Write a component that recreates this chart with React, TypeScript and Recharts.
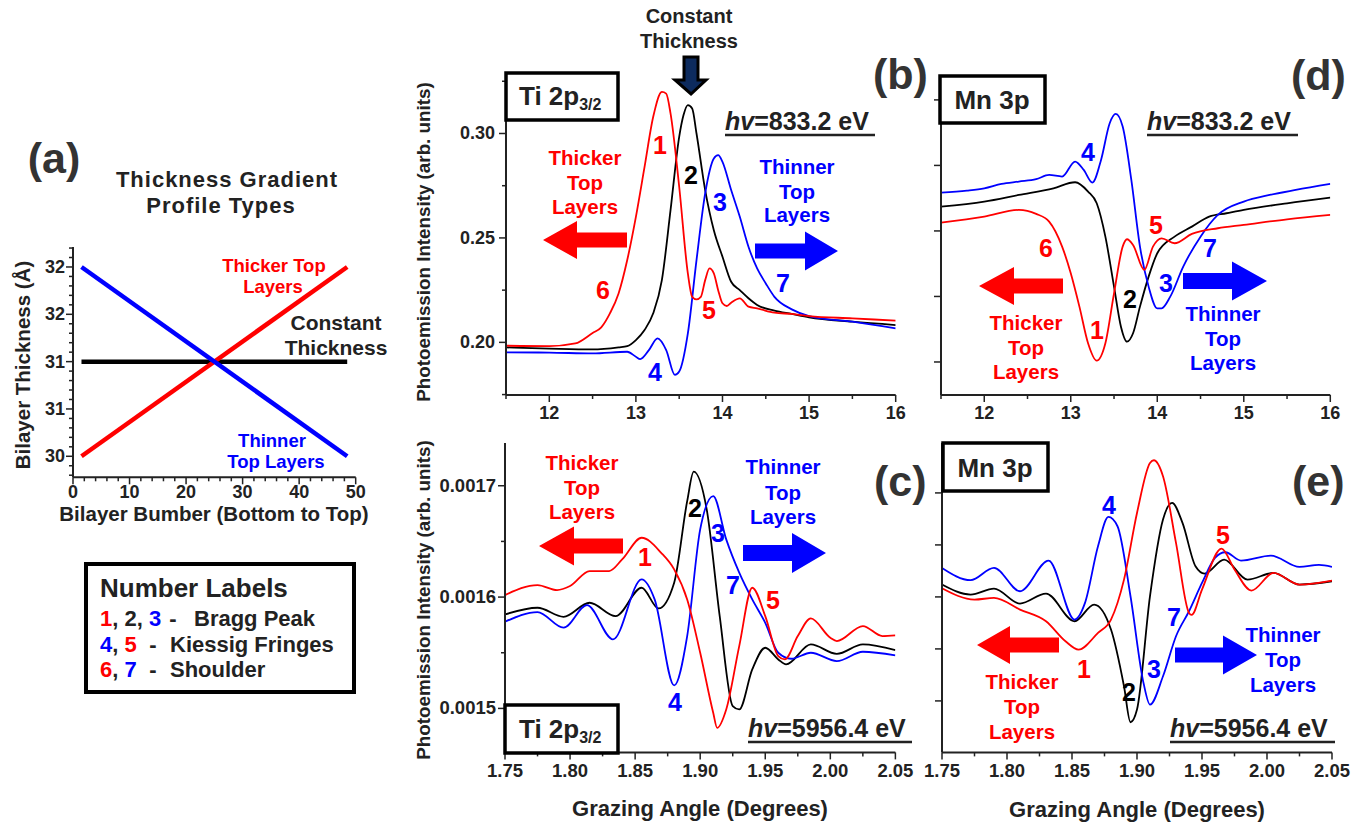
import React from 'react';
import { LineChart, Line, XAxis, YAxis } from 'recharts';

// ---------- panel (a): thickness profiles ----------
const aX = [1.5, 48.5];
const aThicker = [30, 32];
const aThinner = [32, 30];
const aConstant = [31, 31];
const aXMajor = [0, 10, 20, 30, 40, 50];
const aXMinor = [2, 4, 6, 8, 12, 14, 16, 18, 22, 24, 26, 28, 32, 34, 36, 38, 42, 44, 46, 48];
const aYMajor = [30, 30.5, 31, 31.5, 32];
const aYMinor = [29.8, 29.9, 30.1, 30.2, 30.3, 30.4, 30.6, 30.7, 30.8, 30.9, 31.1, 31.2, 31.3, 31.4, 31.6, 31.7, 31.8, 31.9, 32.1, 32.2];

// ---------- panel (b): Ti 2p3/2, hv = 833.2 eV ----------
const bRedX = [11.5, 12, 12.3, 12.5, 12.6, 12.7, 12.8, 12.9, 13.0, 13.1, 13.2, 13.3, 13.35, 13.4, 13.5, 13.6, 13.65, 13.7, 13.75, 13.8, 13.85, 13.9, 13.95, 14.0, 14.05, 14.1, 14.2, 14.3, 14.4, 14.6, 14.8, 15.0, 15.5, 16];
const bRed = [0.1984, 0.1982, 0.1995, 0.2045, 0.2072, 0.2139, 0.2234, 0.2394, 0.2601, 0.284, 0.308, 0.3199, 0.3191, 0.3096, 0.2745, 0.233, 0.2218, 0.2206, 0.2218, 0.2298, 0.2354, 0.233, 0.225, 0.2187, 0.2174, 0.219, 0.2211, 0.2171, 0.2163, 0.2142, 0.2136, 0.2126, 0.2115, 0.2104];
const bBlackX = [11.5, 12, 12.5, 12.8, 12.9, 13.0, 13.1, 13.2, 13.3, 13.4, 13.5, 13.55, 13.6, 13.65, 13.7, 13.8, 13.9, 14.0, 14.1, 14.2, 14.3, 14.4, 14.6, 14.8, 15.0, 15.5, 16];
const bBlack = [0.1976, 0.197, 0.1966, 0.1976, 0.1982, 0.2011, 0.2059, 0.2139, 0.2298, 0.2633, 0.2984, 0.3088, 0.3136, 0.312, 0.3, 0.2729, 0.2537, 0.241, 0.229, 0.225, 0.2211, 0.2179, 0.2152, 0.2136, 0.212, 0.2099, 0.2083];
const bBlueX = [11.5, 12, 12.5, 12.9, 13.0, 13.05, 13.15, 13.25, 13.35, 13.45, 13.5, 13.6, 13.7, 13.8, 13.9, 13.95, 14.0, 14.1, 14.2, 14.3, 14.4, 14.5, 14.6, 14.8, 15.0, 15.5, 16];
const bBlue = [0.1952, 0.1951, 0.1947, 0.1955, 0.1931, 0.192, 0.1963, 0.2019, 0.1963, 0.1844, 0.186, 0.2043, 0.2394, 0.2713, 0.288, 0.2896, 0.2864, 0.2729, 0.2601, 0.2458, 0.2354, 0.2282, 0.2218, 0.2158, 0.2126, 0.2099, 0.2067];

// ---------- panel (d): Mn 3p, hv = 833.2 eV ----------
const dBlueX = [11.5, 11.8, 12, 12.2, 12.4, 12.6, 12.75, 12.9, 13.05, 13.15, 13.25, 13.35, 13.45, 13.52, 13.6, 13.7, 13.8, 13.9, 14.0, 14.05, 14.15, 14.3, 14.5, 14.7, 15.0, 15.3, 15.6, 16];
const dBlue = [2.585, 2.616, 2.651, 2.718, 2.753, 2.789, 2.855, 2.83, 3.059, 2.931, 2.738, 3.084, 3.644, 3.786, 3.593, 2.779, 1.761, 1.15, 0.819, 0.819, 0.997, 1.455, 1.913, 2.244, 2.448, 2.55, 2.626, 2.718];
const dBlackX = [11.5, 12, 12.4, 12.8, 13.05, 13.2, 13.3, 13.4, 13.5, 13.58, 13.65, 13.72, 13.8, 13.9, 14.0, 14.2, 14.4, 14.6, 14.8, 15.0, 15.5, 16];
const dBlack = [2.372, 2.448, 2.55, 2.651, 2.743, 2.601, 2.422, 1.913, 1.15, 0.539, 0.31, 0.438, 0.845, 1.303, 1.659, 1.913, 2.066, 2.219, 2.27, 2.321, 2.422, 2.509];
const dRedX = [11.5, 12, 12.4, 12.6, 12.75, 12.9, 13.0, 13.1, 13.2, 13.3, 13.4, 13.5, 13.6, 13.65, 13.72, 13.85, 13.95, 14.05, 14.2, 14.4, 14.7, 15.0, 15.5, 16];
const dRed = [2.127, 2.219, 2.321, 2.26, 2.142, 1.761, 1.354, 0.845, 0.285, 0.02, 0.285, 1.048, 1.761, 1.873, 1.786, 1.405, 1.761, 1.888, 1.812, 1.954, 2.041, 2.092, 2.178, 2.244];

// ---------- panel (c): Ti 2p3/2, hv = 5956.4 eV ----------
const cRedX = [1.75, 1.775, 1.79, 1.8, 1.815, 1.83, 1.84, 1.855, 1.87, 1.88, 1.89, 1.9, 1.91, 1.913, 1.92, 1.93, 1.94, 1.95, 1.96, 1.965, 1.975, 1.985, 2.0, 2.005, 2.025, 2.04, 2.05];
const cRed = [0.0016018, 0.0016108, 0.0016063, 0.0016099, 0.0016234, 0.0016234, 0.0016338, 0.0016533, 0.0016398, 0.0016249, 0.0015979, 0.00155, 0.0014961, 0.0014826, 0.0014991, 0.001556, 0.0016084, 0.0015829, 0.001547, 0.001544, 0.001565, 0.0015808, 0.0015635, 0.0015605, 0.001574, 0.001565, 0.0015656];
const cBlackX = [1.75, 1.775, 1.795, 1.815, 1.835, 1.855, 1.868, 1.88, 1.89, 1.895, 1.905, 1.915, 1.925, 1.93, 1.94, 1.95, 1.96, 1.966, 1.985, 2.005, 2.025, 2.05];
const cBlack = [0.0015844, 0.0015904, 0.0015823, 0.0015949, 0.0015829, 0.0016084, 0.0015898, 0.0016129, 0.0016862, 0.0017126, 0.0016787, 0.0015829, 0.0015021, 0.0014991, 0.001535, 0.0015545, 0.001544, 0.0015395, 0.0015575, 0.001549, 0.0015575, 0.0015524];
const cBlueX = [1.75, 1.775, 1.795, 1.813, 1.833, 1.855, 1.865, 1.88, 1.89, 1.9, 1.91, 1.92, 1.93, 1.94, 1.95, 1.96, 1.97, 1.985, 2.005, 2.025, 2.05];
const cBlue = [0.0015778, 0.0015865, 0.0015725, 0.0015928, 0.001562, 0.0016159, 0.0015979, 0.0015207, 0.001565, 0.0016608, 0.0016907, 0.0016518, 0.0016219, 0.0015979, 0.0015769, 0.00155, 0.0015446, 0.00155, 0.0015425, 0.0015509, 0.0015476];

// ---------- panel (e): Mn 3p, hv = 5956.4 eV ----------
const eBlueX = [1.75, 1.772, 1.79, 1.81, 1.832, 1.852, 1.86, 1.87, 1.878, 1.885, 1.895, 1.905, 1.91, 1.92, 1.93, 1.94, 1.95, 1.96, 1.968, 1.98, 2.003, 2.025, 2.04, 2.05];
const eBlue = [2.558, 2.321, 2.558, 2.109, 2.699, 1.564, 1.885, 2.974, 3.538, 3.359, 2.013, 0.346, -0.071, 0.474, 1.244, 1.724, 2.269, 2.75, 2.859, 2.699, 2.795, 2.577, 2.615, 2.577];
const eBlackX = [1.75, 1.772, 1.79, 1.81, 1.83, 1.852, 1.867, 1.88, 1.89, 1.895, 1.9, 1.91, 1.92, 1.927, 1.935, 1.945, 1.952, 1.967, 1.985, 2.005, 2.025, 2.05];
const eBlack = [2.237, 2.045, 2.16, 1.872, 2.064, 1.532, 1.853, 1.372, 0.282, -0.41, -0.167, 2.013, 3.487, 3.808, 3.423, 2.59, 2.449, 2.718, 2.333, 2.462, 2.237, 2.301];
const eRedX = [1.75, 1.775, 1.79, 1.81, 1.83, 1.845, 1.855, 1.87, 1.88, 1.89, 1.9, 1.91, 1.913, 1.92, 1.93, 1.94, 1.942, 1.95, 1.965, 1.975, 1.988, 2.005, 2.025, 2.05];
const eRed = [2.167, 1.949, 1.981, 1.756, 1.532, 1.147, 0.987, 1.308, 1.564, 2.333, 3.615, 4.577, 4.628, 4.321, 3.038, 1.692, 1.654, 2.141, 2.929, 2.526, 2.122, 2.462, 2.237, 2.314];

// shared tick lists
const lowXMajor = [12, 13, 14, 15, 16];
const lowXMinor = [11.5, 12.5, 13.5, 14.5, 15.5];
const highXMajor = [1.75, 1.8, 1.85, 1.9, 1.95, 2.0, 2.05];
const highXMinor = [1.775, 1.825, 1.875, 1.925, 1.975, 2.025];
const bYMajor = [0.2, 0.25, 0.3];
const bYMinor = [0.175, 0.225, 0.275, 0.325];
const cYMajor = [0.0015, 0.0016, 0.0017];
const cYMinor = [0.00155, 0.00165];
const mnYMajor = [0, 1, 2, 3, 4];

const RED = '#ff0000';
const BLUE = '#0000ff';
const BLACK = '#000000';
const INK = '#222222';
const FONT = '"Liberation Sans", Arial, sans-serif';
const YW = 100; // room left of each plot for the tick labels

const zip = (xs: number[], ys: number[]) => xs.map((x, i) => ({ x, y: ys[i] }));
const isIn = (list: number[], v: number) => list.some((m) => Math.abs(m - v) < 1e-9);

const xTick = (major: number[], fmt: (v: number) => string, size: number, dy: number) => (props: any) => {
  const { x, y, payload } = props;
  const big = isIn(major, payload.value);
  return (
    <g>
      <line x1={x} x2={x} y1={y} y2={y + (big ? 7 : 4)} stroke={INK} strokeWidth={1.5} />
      {big && (
        <text x={x} y={y + dy} textAnchor="middle" fontSize={size} fontWeight="bold" fill={INK} fontFamily={FONT}>
          {fmt(payload.value)}
        </text>
      )}
    </g>
  );
};

const yTick = (major: number[], fmt: ((v: number) => string) | null, size: number, gap: number) => (props: any) => {
  const { x, y, payload } = props;
  const big = isIn(major, payload.value);
  return (
    <g>
      <line x1={x} x2={x - (big ? 7 : 4)} y1={y} y2={y} stroke={INK} strokeWidth={1.5} />
      {big && fmt && (
        <text x={x - gap} y={y + 6} textAnchor="end" fontSize={size} fontWeight="bold" fill={INK} fontFamily={FONT}>
          {fmt(payload.value)}
        </text>
      )}
    </g>
  );
};

interface Series { data: { x: number; y: number }[]; color: string; width: number; type?: 'monotone' | 'linear' }

interface PanelProps {
  left: number; top: number; w: number; h: number;
  xDomain: [number, number]; yDomain: [number, number];
  xTicks: number[]; yTicks: number[];
  xRender: any; yRender: any;
  series: Series[];
}

const Panel = ({ left, top, w, h, xDomain, yDomain, xTicks, yTicks, xRender, yRender, series }: PanelProps) => (
  <div style={{ position: 'absolute', left: left - YW, top: top - 10 }}>
    <LineChart width={w + YW + 20} height={h + 50} margin={{ top: 10, right: 20, bottom: 0, left: 0 }}>
      <XAxis type="number" dataKey="x" domain={xDomain} ticks={xTicks} interval={0} allowDataOverflow
        tickSize={0} tickMargin={0} tickLine={false} tick={xRender} height={40}
        axisLine={{ stroke: INK, strokeWidth: 2 }} />
      <YAxis type="number" dataKey="y" domain={yDomain} ticks={yTicks} interval={0} allowDataOverflow
        tickSize={0} tickMargin={0} tickLine={false} tick={yRender} width={YW}
        axisLine={{ stroke: INK, strokeWidth: 2 }} />
      {series.map((s, i) => (
        <Line key={i} data={s.data} dataKey="y" type={s.type ?? 'monotone'} stroke={s.color}
          strokeWidth={s.width} dot={false} activeDot={false} isAnimationActive={false} />
      ))}
    </LineChart>
  </div>
);

const Arrow = ({ tx, ty, hx, hh, bh, ex, color }: any) => (
  <polygon fill={color} points={`${tx},${ty} ${hx},${ty - hh} ${hx},${ty - bh} ${ex},${ty - bh} ${ex},${ty + bh} ${hx},${ty + bh} ${hx},${ty + hh}`} />
);

const T = ({ x, y, c = INK, s = 20, a = 'middle', children, ...rest }: any) => (
  <text x={x} y={y} fill={c} fontSize={s} fontWeight="bold" textAnchor={a} fontFamily={FONT} {...rest}>{children}</text>
);

const Num = ({ x, y, c, children }: any) => (
  <T x={x} y={y + 9} c={c} s={25}>{children}</T>
);

const Hv = ({ x, y, w, value }: any) => (
  <g>
    <T x={x} y={y} s={25} a="start" c={INK}>
      <tspan fontStyle="italic">hv</tspan>{value}
    </T>
    <line x1={x} x2={x + w} y1={y + 5} y2={y + 5} stroke={INK} strokeWidth={2.5} />
  </g>
);

const BoxLabel = ({ x, y, w, h, children }: any) => (
  <g>
    <rect x={x} y={y} width={w} height={h} fill="#fff" stroke="#000" strokeWidth={3.5} />
    {children}
  </g>
);

const TiText = ({ x, y }: any) => (
  <T x={x} y={y} s={26} a="start" c={INK}>
    Ti 2p<tspan fontSize={16} dy={5}>3/2</tspan>
  </T>
);

export default function App() {
  const fmtLow = (v: number) => String(v);
  const fmtHigh = (v: number) => v.toFixed(2);
  return (
    <div style={{ position: 'absolute', left: 0, top: 0, width: 1363, height: 827, background: '#fff', fontFamily: FONT }}>
      <Panel left={73.3} top={246.7} w={282.7} h={230.3} xDomain={[0, 50]} yDomain={[29.778, 32.211]}
        xTicks={[...aXMajor, ...aXMinor]} yTicks={[...aYMajor, ...aYMinor]}
        xRender={xTick(aXMajor, (v) => String(v), 18, 21)} yRender={yTick(aYMajor, (v) => String(Math.round(v)), 18, 8)}
        series={[
          { data: zip(aX, aConstant), color: BLACK, width: 4.5, type: 'linear' },
          { data: zip(aX, aThicker), color: RED, width: 4.5, type: 'linear' },
          { data: zip(aX, aThinner), color: BLUE, width: 4.5, type: 'linear' },
        ]} />
      <Panel left={506} top={75} w={389.7} h={320} xDomain={[11.5, 16]} yDomain={[0.1748, 0.328]}
        xTicks={[...lowXMajor, ...lowXMinor]} yTicks={[...bYMajor, ...bYMinor]}
        xRender={xTick(lowXMajor, fmtLow, 18, 24)} yRender={yTick(bYMajor, (v) => v.toFixed(2), 18, 11)}
        series={[
          { data: zip(bBlackX, bBlack), color: BLACK, width: 1.8 },
          { data: zip(bBlueX, bBlue), color: BLUE, width: 1.8 },
          { data: zip(bRedX, bRed), color: RED, width: 1.8 },
        ]} />
      <Panel left={940.7} top={75} w={389.3} h={320} xDomain={[11.5, 16]} yDomain={[-0.504, 4.38]}
        xTicks={[...lowXMajor, ...lowXMinor]} yTicks={mnYMajor}
        xRender={xTick(lowXMajor, fmtLow, 18, 24)} yRender={yTick(mnYMajor, null, 18, 11)}
        series={[
          { data: zip(dBlackX, dBlack), color: BLACK, width: 1.8 },
          { data: zip(dBlueX, dBlue), color: BLUE, width: 1.8 },
          { data: zip(dRedX, dRed), color: RED, width: 1.8 },
        ]} />
      <Panel left={505.3} top={443.3} w={390.4} h={309.4} xDomain={[1.75, 2.05]} yDomain={[0.0014605, 0.0017384]}
        xTicks={[...highXMajor, ...highXMinor]} yTicks={[...cYMajor, ...cYMinor]}
        xRender={xTick(highXMajor, fmtHigh, 18.5, 25)} yRender={yTick(cYMajor, (v) => v.toFixed(4), 18.5, 9)}
        series={[
          { data: zip(cBlackX, cBlack), color: BLACK, width: 1.8 },
          { data: zip(cBlueX, cBlue), color: BLUE, width: 1.8 },
          { data: zip(cRedX, cRed), color: RED, width: 1.8 },
        ]} />
      <Panel left={941.7} top={443.3} w={390} h={309.4} xDomain={[1.75, 2.05]} yDomain={[-0.99, 4.96]}
        xTicks={[...highXMajor, ...highXMinor]} yTicks={mnYMajor}
        xRender={xTick(highXMajor, fmtHigh, 18.5, 25)} yRender={yTick(mnYMajor, null, 18, 9)}
        series={[
          { data: zip(eBlackX, eBlack), color: BLACK, width: 1.8 },
          { data: zip(eBlueX, eBlue), color: BLUE, width: 1.8 },
          { data: zip(eRedX, eRed), color: RED, width: 1.8 },
        ]} />

      <svg width={1363} height={827} style={{ position: 'absolute', left: 0, top: 0, pointerEvents: 'none' }}>
        {/* panel (a) texts */}
        <T x={54} y={173} s={43} c="#333">(a)</T>
        <T x={227} y={187} s={22} letterSpacing={1}>Thickness Gradient</T>
        <T x={221} y={213} s={22} letterSpacing={1}>Profile Types</T>
        <T x={274} y={272} s={18.5} c={RED}>Thicker Top</T>
        <T x={273} y={293} s={18.5} c={RED}>Layers</T>
        <T x={336} y={330} s={21} c={INK}>Constant</T>
        <T x={336} y={355} s={21} c={INK}>Thickness</T>
        <T x={272} y={447} s={18.5} c={BLUE}>Thinner</T>
        <T x={276} y={468} s={18.5} c={BLUE}>Top Layers</T>
        <T x={214} y={521} s={20.5}>Bilayer Bumber (Bottom to Top)</T>
        <T x={22} y={365} s={20.5} transform="rotate(-90 22 365)" dominantBaseline="central">Bilayer Thickness (Å)</T>

        {/* legend box */}
        <rect x={86} y={564} width={268} height={128} fill="none" stroke="#000" strokeWidth={4} />
        <T x={100} y={597} s={26} a="start">Number Labels</T>
        <T x={100} y={626} s={22} a="start"><tspan fill={RED}>1</tspan>, 2, <tspan fill={BLUE}>3</tspan></T>
        <T x={173} y={626} s={22}>-</T>
        <T x={194} y={626} s={22} a="start">Bragg Peak</T>
        <T x={100} y={652} s={22} a="start"><tspan fill={BLUE}>4</tspan>, <tspan fill={RED}>5</tspan></T>
        <T x={153} y={652} s={22}>-</T>
        <T x={170} y={652} s={22} a="start">Kiessig Fringes</T>
        <T x={100} y={677} s={22} a="start"><tspan fill={RED}>6</tspan>, <tspan fill={BLUE}>7</tspan></T>
        <T x={153} y={677} s={22}>-</T>
        <T x={170} y={677} s={22} a="start">Shoulder</T>

        {/* axis titles */}
        <T x={423} y={242} s={18.8} transform="rotate(-90 423 242)" dominantBaseline="central">Photoemission Intensity (arb. units)</T>
        <T x={423} y={600} s={18.8} transform="rotate(-90 423 600)" dominantBaseline="central">Photoemission Intensity (arb. units)</T>
        <T x={700} y={816} s={22}>Grazing Angle (Degrees)</T>
        <T x={1137} y={817} s={22}>Grazing Angle (Degrees)</T>

        {/* panel (b) */}
        <T x={689} y={23} s={20}>Constant</T>
        <T x={689} y={48} s={20}>Thickness</T>
        <polygon points="684,57 698,57 698,80 706,80 691,94 675,80 684,80" fill="#0d2b5e" stroke="#000" strokeWidth={3} strokeLinejoin="miter" />
        <BoxLabel x={506} y={73} w={112} h={47}><TiText x={519} y={105} /></BoxLabel>
        <T x={873} y={89} s={43} a="start" c="#333">(b)</T>
        <Hv x={725} y={130} w={150} value="=833.2 eV" />
        <T x={585} y={165} s={20.5} c={RED}>Thicker</T>
        <T x={585} y={190} s={20.5} c={RED}>Top</T>
        <T x={585} y={214} s={20.5} c={RED}>Layers</T>
        <Arrow tx={543} ty={240} hx={577} hh={19} bh={7.5} ex={627} color={RED} />
        <T x={797} y={174} s={20.5} c={BLUE}>Thinner</T>
        <T x={797} y={199} s={20.5} c={BLUE}>Top</T>
        <T x={797} y={222} s={20.5} c={BLUE}>Layers</T>
        <Arrow tx={838} ty={251} hx={805} hh={19.5} bh={7.5} ex={755} color={BLUE} />
        <Num x={660} y={145} c={RED}>1</Num>
        <Num x={691} y={175} c={BLACK}>2</Num>
        <Num x={720} y={202} c={BLUE}>3</Num>
        <Num x={655} y={372} c={BLUE}>4</Num>
        <Num x={709} y={310} c={RED}>5</Num>
        <Num x={603} y={290} c={RED}>6</Num>
        <Num x={783} y={283} c={BLUE}>7</Num>

        {/* panel (d) */}
        <BoxLabel x={940} y={76} w={105} h={47}><T x={992} y={109} s={26}>Mn 3p</T></BoxLabel>
        <T x={1291} y={90} s={43} a="start" c="#333">(d)</T>
        <Hv x={1147} y={130} w={151} value="=833.2 eV" />
        <Arrow tx={979} ty={286} hx={1014} hh={19} bh={7.5} ex={1063} color={RED} />
        <T x={1026} y={330} s={20.5} c={RED}>Thicker</T>
        <T x={1026} y={355} s={20.5} c={RED}>Top</T>
        <T x={1026} y={379} s={20.5} c={RED}>Layers</T>
        <Arrow tx={1267} ty={281} hx={1232} hh={19.5} bh={8} ex={1183} color={BLUE} />
        <T x={1223} y={321} s={20.5} c={BLUE}>Thinner</T>
        <T x={1223} y={346} s={20.5} c={BLUE}>Top</T>
        <T x={1223} y={370} s={20.5} c={BLUE}>Layers</T>
        <Num x={1088} y={152} c={BLUE}>4</Num>
        <Num x={1156} y={225} c={RED}>5</Num>
        <Num x={1046} y={248} c={RED}>6</Num>
        <Num x={1210} y={248} c={BLUE}>7</Num>
        <Num x={1166} y={283} c={BLUE}>3</Num>
        <Num x={1130} y={299} c={BLACK}>2</Num>
        <Num x={1097} y={330} c={RED}>1</Num>

        {/* panel (c) */}
        <T x={582} y={470} s={20.5} c={RED}>Thicker</T>
        <T x={582} y={495} s={20.5} c={RED}>Top</T>
        <T x={582} y={519} s={20.5} c={RED}>Layers</T>
        <Arrow tx={539} ty={546} hx={574} hh={19.5} bh={7.5} ex={623} color={RED} />
        <T x={783} y={474} s={20.5} c={BLUE}>Thinner</T>
        <T x={783} y={500} s={20.5} c={BLUE}>Top</T>
        <T x={783} y={524} s={20.5} c={BLUE}>Layers</T>
        <Arrow tx={826} ty={553} hx={792} hh={20} bh={8} ex={743} color={BLUE} />
        <T x={874} y={496} s={43} a="start" c="#333">(c)</T>
        <Num x={645} y={557} c={RED}>1</Num>
        <Num x={695} y={508} c={BLACK}>2</Num>
        <Num x={718} y={533} c={BLUE}>3</Num>
        <Num x={733} y={585} c={BLUE}>7</Num>
        <Num x={773} y={600} c={RED}>5</Num>
        <Num x={675} y={702} c={BLUE}>4</Num>
        <BoxLabel x={505} y={705} w={113} h={48}><TiText x={519} y={738} /></BoxLabel>
        <Hv x={748} y={737} w={164} value="=5956.4 eV" />

        {/* panel (e) */}
        <BoxLabel x={943} y={443} w={105} h={48}><T x={995} y={477} s={26}>Mn 3p</T></BoxLabel>
        <T x={1292} y={496} s={43} a="start" c="#333">(e)</T>
        <Num x={1109} y={505} c={BLUE}>4</Num>
        <Num x={1223} y={535} c={RED}>5</Num>
        <Num x={1174} y={617} c={BLUE}>7</Num>
        <Num x={1084} y={669} c={RED}>1</Num>
        <Num x={1129} y={692} c={BLACK}>2</Num>
        <Num x={1154} y={669} c={BLUE}>3</Num>
        <Arrow tx={977} ty={645} hx={1010} hh={19} bh={7.5} ex={1059} color={RED} />
        <T x={1022} y={689} s={20.5} c={RED}>Thicker</T>
        <T x={1022} y={714} s={20.5} c={RED}>Top</T>
        <T x={1022} y={739} s={20.5} c={RED}>Layers</T>
        <Arrow tx={1257} ty={655} hx={1223} hh={19.5} bh={7.5} ex={1175} color={BLUE} />
        <T x={1283} y={642} s={20.5} c={BLUE}>Thinner</T>
        <T x={1283} y={667} s={20.5} c={BLUE}>Top</T>
        <T x={1283} y={692} s={20.5} c={BLUE}>Layers</T>
        <Hv x={1170} y={737} w={165} value="=5956.4 eV" />
      </svg>
    </div>
  );
}
